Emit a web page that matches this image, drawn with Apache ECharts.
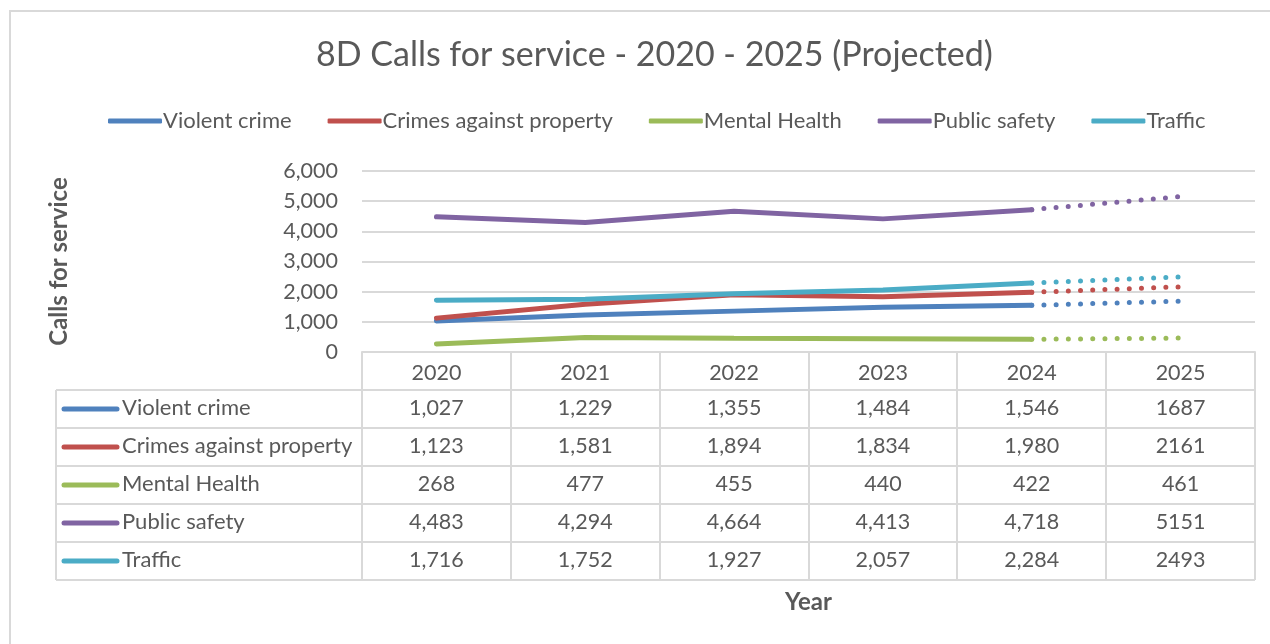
<!DOCTYPE html>
<html>
<head>
<meta charset="utf-8">
<script src="https://cdn.jsdelivr.net/npm/echarts@6/dist/echarts.min.js"></script>
<style>
    html, body { margin: 0; padding: 0; background: #fff; }
    #calls-chart { width: 1270px; height: 644px; }
</style>
</head>
<body>
<div id="calls-chart"></div>
<script>
/*8D calls for service*/

var years = ['2020', '2021', '2022', '2023', '2024', '2025'];
var seriesNames = ['Violent crime', 'Crimes against property', 'Mental Health', 'Public safety', 'Traffic'];
var violentCrime = [1027, 1229, 1355, 1484, 1546, 1687];
var propertyCrime = [1123, 1581, 1894, 1834, 1980, 2161];
var mentalHealth = [268, 477, 455, 440, 422, 461];
var publicSafety = [4483, 4294, 4664, 4413, 4718, 5151];
var traffic = [1716, 1752, 1927, 2057, 2284, 2493];
var yTicks = [0, 1000, 2000, 3000, 4000, 5000, 6000];

var colors = ['#4F81BD', '#C0504D', '#9BBB59', '#8064A2', '#4BACC6'];
var textColor = '#595959';
var lineColor = '#D9D9D9';
var font = 'Lato';

var allValues = [violentCrime, propertyCrime, mentalHealth, publicSafety, traffic];
var projectedFrom = 4;  //2024 -> 2025 is projected

//plot area, same numbers go to the grid and the table
var plotLeft = 362, plotRight = 1255, plotTop = 171, plotBottom = 352;
var rowH = 38;
var tableLeft = 56;

function fmt(v, i) {
    //Excel shows the projected column without thousands separator
    return i > projectedFrom ? String(v) : v.toLocaleString('en-US');
}

function buildSeries() {
    var list = [];
    for (var s = 0; s < allValues.length; s++) {
        var solid = [], dotted = [];
        for (var i = 0; i < years.length; i++) {
            solid.push(i <= projectedFrom ? allValues[s][i] : '-');
            dotted.push(i >= projectedFrom ? allValues[s][i] : '-');
        }
        list.push({
            name: seriesNames[s],
            type: 'line',
            data: solid,
            symbol: 'none',
            color: colors[s],
            lineStyle: { width: 5, cap: 'round' },
            silent: true
        });
        list.push({
            name: seriesNames[s] + ' projected',
            type: 'line',
            data: dotted,
            symbol: 'none',
            color: colors[s],
            lineStyle: { width: 5, type: [0, 12.2], cap: 'round' },
            silent: true
        });
    }
    return list;
}

function buildTable() {
    var g = [];
    var colW = (plotRight - plotLeft) / years.length;
    var tableBottom = plotBottom + rowH * (seriesNames.length + 1);
    var line = function (x1, y1, x2, y2) {
        return { type: 'line', shape: { x1: x1, y1: y1, x2: x2, y2: y2 }, style: { stroke: lineColor, lineWidth: 2 }, z: 1 };
    };
    //vertical lines
    for (var c = 0; c <= years.length; c++) {
        var x = Math.round(plotLeft + c * colW);
        g.push(line(x, plotBottom, x, tableBottom));
    }
    g.push(line(tableLeft, plotBottom + rowH, tableLeft, tableBottom));
    //horizontal lines
    for (var r = 1; r <= seriesNames.length + 1; r++) {
        var y = plotBottom + r * rowH;
        g.push(line(tableLeft, y, plotRight, y));
    }
    //rows
    for (var s = 0; s < seriesNames.length; s++) {
        var cy = plotBottom + rowH * (s + 1) + rowH / 2;
        g.push({
            type: 'line',
            shape: { x1: tableLeft + 8, y1: cy, x2: tableLeft + 61, y2: cy },
            style: { stroke: colors[s], lineWidth: 5, lineCap: 'round' },
            z: 2
        });
        g.push({
            type: 'text', x: tableLeft + 66, y: cy - 1,
            style: { text: seriesNames[s], fill: textColor, font: '22px ' + font, textVerticalAlign: 'middle' },
            z: 2
        });
        for (var i = 0; i < years.length; i++) {
            g.push({
                type: 'text', x: plotLeft + colW * (i + 0.5), y: cy - 1,
                style: { text: fmt(allValues[s][i], i), fill: textColor, font: '21.5px ' + font, textAlign: 'center', textVerticalAlign: 'middle' },
                z: 2
            });
        }
    }
    //outer chart frame
    g.push({
        type: 'rect', shape: { x: 10, y: 11, width: 1280, height: 660 },
        style: { fill: 'none', stroke: lineColor, lineWidth: 2 }, z: 0
    });
    return g;
}

function drawCallsChart() {
    var chart = echarts.init(document.getElementById('calls-chart'));
    var option = {
        animation: false,
        title: {
            text: '8D Calls for service - 2020 - 2025 (Projected)',
            left: 311,
            top: 33,
            textStyle: { fontSize: 34, fontWeight: 'normal', color: textColor, fontFamily: font }
        },
        legend: {
            data: seriesNames,
            top: 105,
            left: 103,
            icon: 'roundRect',
            itemWidth: 54,
            itemHeight: 5,
            itemGap: 36,
            textStyle: { fontSize: 22, color: textColor, fontFamily: font, padding: [0, 0, 0, -4] }
        },
        grid: {
            left: plotLeft,
            right: 1270 - plotRight,
            top: plotTop,
            bottom: 644 - plotBottom,
            containLabel: false
        },
        xAxis: {
            type: 'category',
            data: years,
            boundaryGap: true,
            name: 'Year',
            nameLocation: 'middle',
            nameGap: 238,
            nameTextStyle: { fontSize: 24, fontWeight: 'bold', color: textColor, fontFamily: font },
            axisLine: { lineStyle: { color: lineColor, width: 2 } },
            axisTick: { show: false },
            axisLabel: { fontSize: 21.5, color: textColor, fontFamily: font, margin: 10 }
        },
        yAxis: {
            type: 'value',
            min: yTicks[0],
            max: yTicks[yTicks.length - 1],
            interval: 1000,
            name: 'Calls for service',
            nameLocation: 'middle',
            nameGap: 291,
            nameRotate: 90,
            nameTextStyle: { fontSize: 24, fontWeight: 'bold', color: textColor, fontFamily: font },
            axisLine: { show: false },
            axisTick: { show: false },
            splitLine: { lineStyle: { color: lineColor, width: 2 } },
            axisLabel: {
                fontSize: 21.5, color: textColor, fontFamily: font, margin: 24,
                formatter: function (v) { return v.toLocaleString('en-US'); }
            }
        },
        graphic: buildTable(),
        series: buildSeries()
    };
    chart.setOption(option);
}

drawCallsChart();
</script>
</body>
</html>
